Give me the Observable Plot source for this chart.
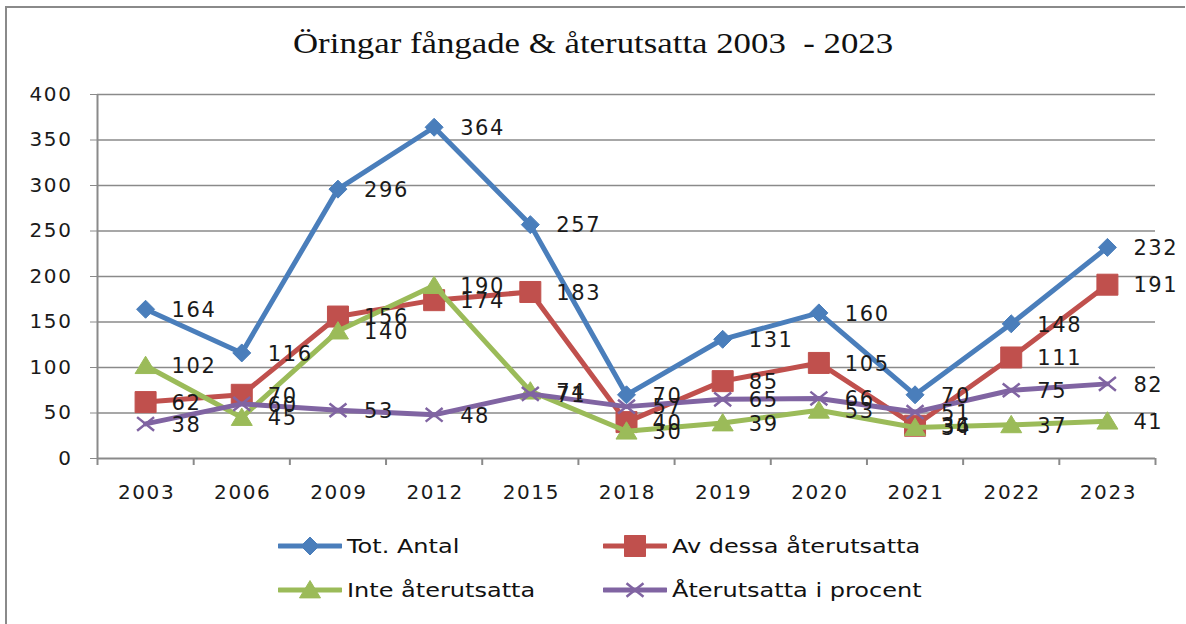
<!DOCTYPE html>
<html>
<head>
<meta charset="utf-8">
<script src="https://cdn.jsdelivr.net/npm/d3@7"></script>
<script src="https://cdn.jsdelivr.net/npm/@observablehq/plot@0.6"></script>
<style>
  html, body { margin: 0; padding: 0; background: #fff; }
  #wrap { position: relative; width: 1186px; height: 624px; overflow: hidden; background: #fff; }
  #frame { position: absolute; left: 5px; top: 6px; width: 1180px; height: 630px; border-top: 2px solid #8a8a8a; border-left: 2px solid #8a8a8a; box-sizing: border-box; }
  #title { position: absolute; top: 27px; left: 0; width: 1186px; text-align: center; font-family: "Liberation Serif", "Times New Roman", serif; font-size: 29px; color: #111; white-space: pre; }
  #title span { display: inline-block; transform: scaleX(1.2); transform-origin: center; }
  #chart { position: absolute; left: 0; top: 70px; }
  .leg { position: absolute; display: flex; align-items: center; font-family: "DejaVu Sans", sans-serif; font-size: 20px; color: #111; white-space: nowrap; }
  .leg svg { margin-right: 5px; }
  .leg span { display: inline-block; transform: scaleX(1.2); transform-origin: left center; }
</style>
</head>
<body>
<div id="wrap">
  <div id="frame"></div>
  <div id="title"><span></span></div>
  <div id="chart"></div>
  <div id="legend"></div>
</div>
<script>
const years = ["2003", "2006", "2009", "2012", "2015", "2018", "2019", "2020", "2021", "2022", "2023"];
const totAntal = [164, 116, 296, 364, 257, 70, 131, 160, 70, 148, 232];
const avDessa = [62, 70, 156, 174, 183, 40, 85, 105, 36, 111, 191];
const inteAter = [102, 45, 140, 190, 74, 30, 39, 53, 34, 37, 41];
const procent = [38, 60, 53, 48, 71, 57, 65, 66, 51, 75, 82];
const seriesNames = ["Tot. Antal", "Av dessa återutsatta", "Inte återutsatta", "Återutsatta i procent"];
const seriesColors = ["#4A7EBB", "#C0504D", "#9BBB59", "#8064A2"];
const yTicks = [0, 50, 100, 150, 200, 250, 300, 350, 400];
const titleText = "Öringar fångade & återutsatta 2003  - 2023";

document.querySelector("#title span").textContent = titleText;

const radius = d => Math.sqrt(d / Math.PI);
const symDiamond = {draw(ctx, size) { const r = radius(size); ctx.moveTo(0, -r); ctx.lineTo(r, 0); ctx.lineTo(0, r); ctx.lineTo(-r, 0); ctx.closePath(); }};
const symSquare = {draw(ctx, size) { const r = radius(size); ctx.moveTo(-r, -r); ctx.lineTo(r, -r); ctx.lineTo(r, r); ctx.lineTo(-r, r); ctx.closePath(); }};
const symTriangle = {draw(ctx, size) { const r = radius(size); ctx.moveTo(0, -r * 0.9); ctx.lineTo(r, r * 0.75); ctx.lineTo(-r, r * 0.75); ctx.closePath(); }};
const symTimes = {draw(ctx, size) { const r = radius(size); ctx.moveTo(-r, -r * 0.8); ctx.lineTo(r, r * 0.8); ctx.moveTo(r, -r * 0.8); ctx.lineTo(-r, r * 0.8); }};

const allValues = [totAntal, avDessa, inteAter, procent];
const symbols = [symDiamond, symSquare, symTriangle, symTimes];
const symR = [9, 10.5, 10.5, 8.5];
const data = allValues.map(vals => vals.map((v, i) => ({i, year: years[i], v})));

const font = "DejaVu Sans, sans-serif";
const gridColor = "#8a8a8a";
const ls = "1.6px";

const marks = [
  Plot.ruleY(yTicks.filter(t => t > 0), {stroke: gridColor, strokeWidth: 1.6}),
  Plot.ruleY([0], {stroke: gridColor, strokeWidth: 2}),
  Plot.ruleX([0], {y1: 0, y2: 400, stroke: gridColor, strokeWidth: 2}),
  Plot.axisY({ticks: yTicks, tickSize: 7, tickPadding: 18, stroke: gridColor, fontSize: 20, fill: "#1a1a1a", fontFamily: font, label: null, style: {letterSpacing: ls}}),
  Plot.axisX({ticks: d3.range(0, years.length + 1), tickSize: 7, tickFormat: () => "", stroke: gridColor, strokeWidth: 2, label: null}),
  Plot.axisX({ticks: years.map((y, i) => i + 0.5), tickSize: 0, tickPadding: 26, tickFormat: t => years[Math.round(t - 0.5)], fontSize: 20, fill: "#1a1a1a", fontFamily: font, label: null, dx: 1, style: {letterSpacing: ls}})
];

data.forEach((rows, k) => {
  marks.push(Plot.line(rows, {x: d => d.i + 0.5, y: "v", stroke: seriesColors[k], strokeWidth: 5, strokeLinejoin: "round"}));
  if (k === 3) {
    marks.push(Plot.dot(rows, {x: d => d.i + 0.5, y: "v", symbol: symbols[k], r: symR[k], fill: "none", stroke: seriesColors[k], strokeWidth: 2.5}));
  } else {
    marks.push(Plot.dot(rows, {x: d => d.i + 0.5, y: "v", symbol: symbols[k], r: symR[k], fill: seriesColors[k], stroke: seriesColors[k], strokeWidth: 1}));
  }
});
data.forEach(rows => {
  marks.push(Plot.text(rows, {x: d => d.i + 0.5, y: "v", text: d => String(d.v), dx: 26, dy: 1, textAnchor: "start", fontSize: 21, fill: "#1a1a1a", fontFamily: font, style: {letterSpacing: ls}}));
});

const plot = Plot.plot({
  width: 1186,
  height: 450,
  marginLeft: 97,
  marginRight: 31,
  marginTop: 24,
  marginBottom: 62,
  style: {background: "transparent", overflow: "visible"},
  x: {type: "linear", domain: [0, years.length], axis: null},
  y: {domain: [0, 400], axis: null},
  marks
});
d3.select(plot).selectAll("text").style("letter-spacing", ls);
document.getElementById("chart").appendChild(plot);

// legend
const legPos = [[278, 546], [603, 546], [278, 590], [603, 590]];
const legend = document.getElementById("legend");
seriesNames.forEach((name, k) => {
  const div = document.createElement("div");
  div.className = "leg";
  div.style.left = legPos[k][0] + "px";
  div.style.top = (legPos[k][1] - 15) + "px";
  div.style.height = "30px";
  const svg = d3.create("svg").attr("width", 64).attr("height", 30);
  svg.append("line").attr("x1", 1).attr("x2", 63).attr("y1", 15).attr("y2", 15)
    .attr("stroke", seriesColors[k]).attr("stroke-width", 5).attr("stroke-linecap", "round");
  const r = symR[k];
  const p = d3.path();
  symbols[k].draw(p, Math.PI * r * r);
  svg.append("path").attr("d", p.toString()).attr("transform", "translate(32,15)")
    .attr("fill", k === 3 ? "none" : seriesColors[k]).attr("stroke", seriesColors[k]).attr("stroke-width", k === 3 ? 2.5 : 1);
  div.appendChild(svg.node());
  const span = document.createElement("span");
  span.textContent = name;
  div.appendChild(span);
  legend.appendChild(div);
});
</script>
</body>
</html>
